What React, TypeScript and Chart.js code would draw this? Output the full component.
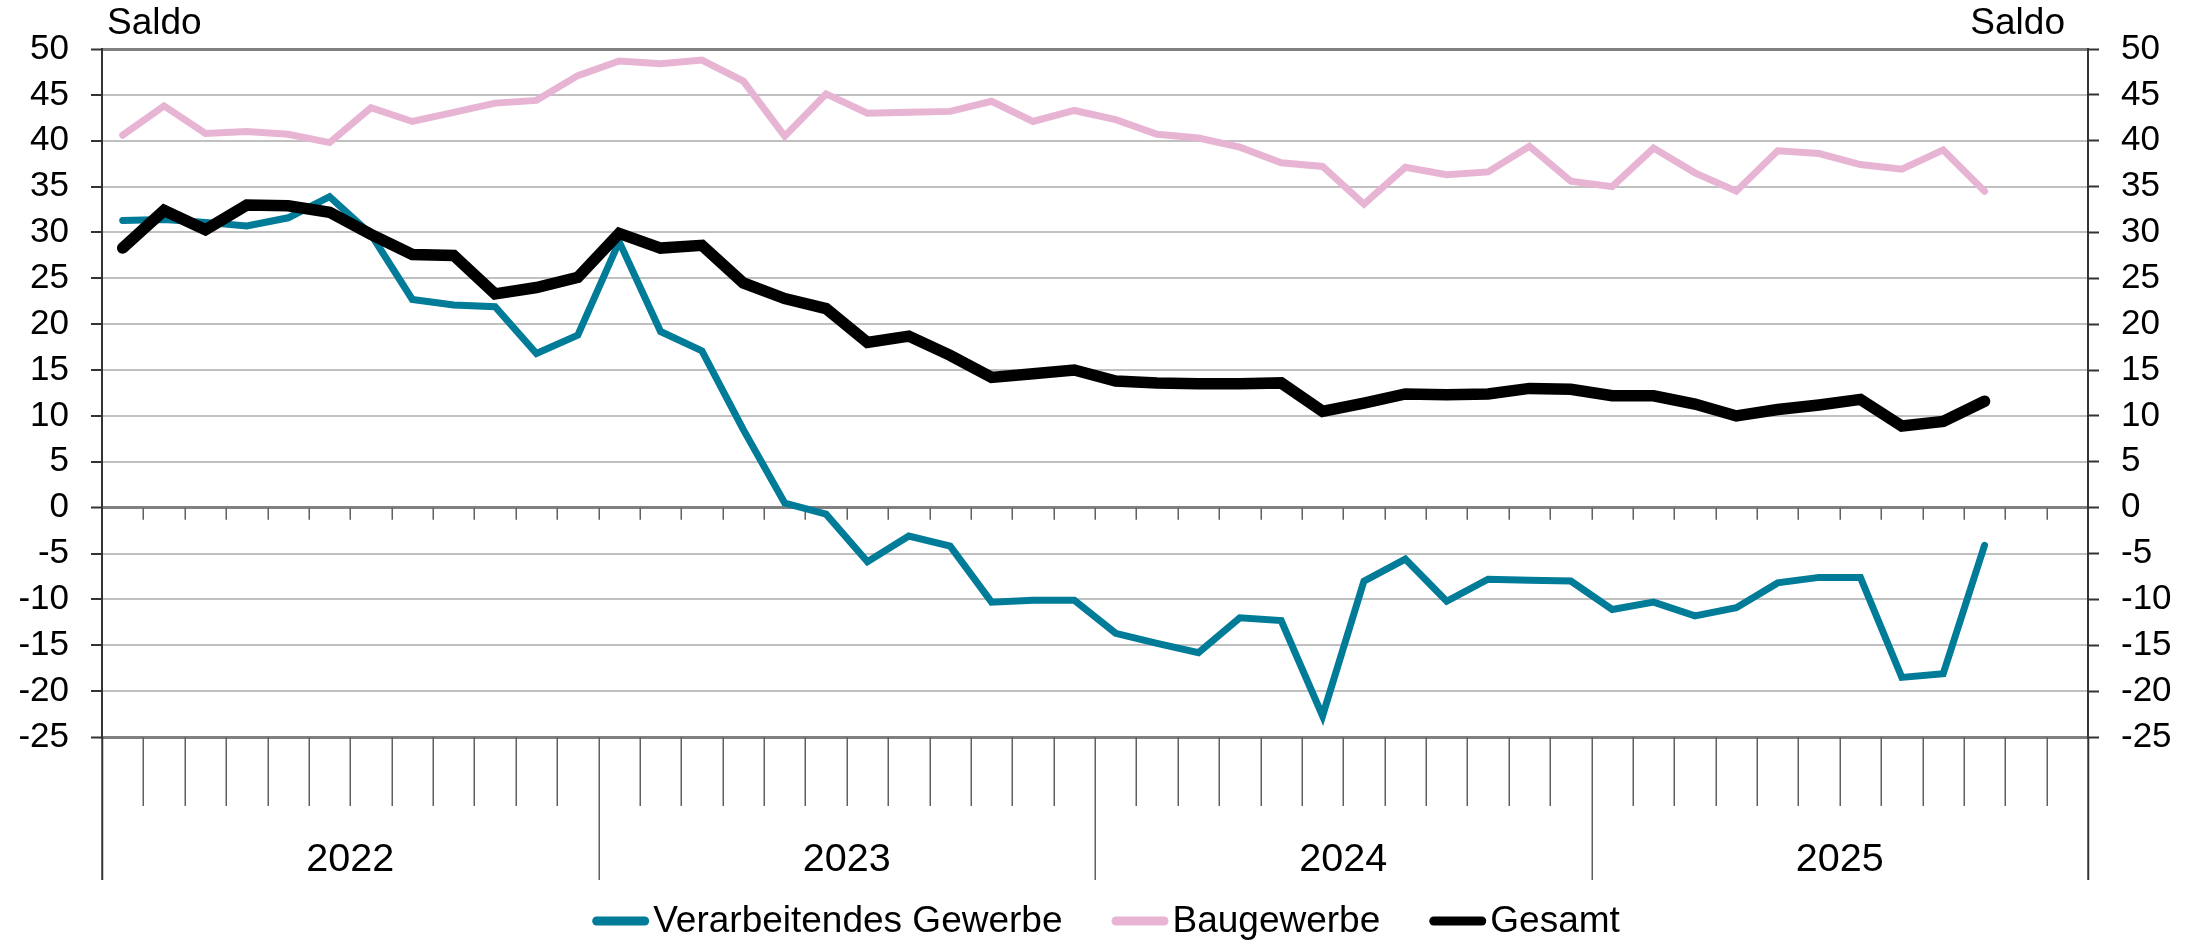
import React, { useEffect, useRef } from 'react';
import { Chart, registerables } from 'chart.js';

Chart.register(...registerables);

const FONT = "'Liberation Sans', Arial, Helvetica, sans-serif";

const YEARS = ['2022', '2023', '2024', '2025'];
const MONTHS_PER_YEAR = 12;
const Y_MIN = -25;
const Y_MAX = 50;
const Y_STEP = 5;
const AXIS_TITLE = 'Saldo';

const SERIES_NAMES = ['Verarbeitendes Gewerbe', 'Baugewerbe', 'Gesamt'];

// Monthly values, Jan 2022 .. Oct 2025
const VERARBEITENDES = [
  31.3, 31.4, 31.1, 30.7, 31.6, 33.9, 29.8, 22.7, 22.1, 21.9, 16.8, 18.8,
  29.0, 19.2, 17.1, 8.5, 0.5, -0.7, -5.9, -3.1, -4.2, -10.3, -10.1, -10.1,
  -13.7, -14.8, -15.8, -12.0, -12.3, -22.7, -8.0, -5.6, -10.2, -7.8, -7.9, -8.0,
  -11.1, -10.3, -11.8, -10.9, -8.2, -7.6, -7.6, -18.5, -18.1, -4.1,
];
const BAUGEWERBE = [
  40.6, 43.8, 40.8, 41.0, 40.7, 39.8, 43.6, 42.1, 43.1, 44.1, 44.4, 47.1,
  48.7, 48.4, 48.8, 46.5, 40.5, 45.1, 43.0, 43.1, 43.2, 44.3, 42.1, 43.3,
  42.3, 40.7, 40.3, 39.3, 37.6, 37.2, 33.1, 37.1, 36.3, 36.6, 39.4, 35.6,
  35.0, 39.2, 36.5, 34.5, 38.9, 38.6, 37.4, 36.9, 39.0, 34.5,
];
const GESAMT = [
  28.3, 32.4, 30.3, 33.0, 32.9, 32.2, 29.8, 27.6, 27.5, 23.3, 24.0, 25.1,
  29.9, 28.3, 28.6, 24.5, 22.8, 21.7, 18.0, 18.7, 16.6, 14.2, 14.6, 15.0,
  13.8, 13.6, 13.5, 13.5, 13.6, 10.5, 11.4, 12.4, 12.3, 12.4, 13.0, 12.9,
  12.2, 12.2, 11.3, 10.0, 10.7, 11.2, 11.8, 8.9, 9.4, 11.6,
];

const COLORS = ['#007b98', '#e8b4d4', '#000000'];
const WIDTHS = [7, 7, 11.5];

const W = 2198;
const H = 944;

const toPoints = (arr: number[]) => arr.map((v, i) => ({ x: i, y: v }));

const decoPlugin = {
  id: 'deco',
  beforeDatasetsDraw(chart: any) {
    const { ctx } = chart;
    const xs = chart.scales.x;
    const ys = chart.scales.y;
    const total = YEARS.length * MONTHS_PER_YEAR;
    const y0 = ys.getPixelForValue(0);
    ctx.save();
    ctx.strokeStyle = '#606060';
    ctx.lineWidth = 1.5;
    for (let k = 1; k < total; k++) {
      const x = Math.round(xs.getPixelForValue(k - 0.5)) + 0.25;
      ctx.beginPath();
      ctx.moveTo(x, y0);
      ctx.lineTo(x, y0 + 12);
      ctx.stroke();
    }
    ctx.restore();
  },
  afterDraw(chart: any) {
    const { ctx, chartArea } = chart;
    const xs = chart.scales.x;
    const total = YEARS.length * MONTHS_PER_YEAR;
    const bottom = chartArea.bottom;
    ctx.save();
    // bottom tick marks
    for (let k = 0; k <= total; k++) {
      const x = Math.round(xs.getPixelForValue(k - 0.5)) + 0.25;
      const isYear = k % MONTHS_PER_YEAR === 0;
      const isEdge = k === 0 || k === total;
      ctx.beginPath();
      ctx.strokeStyle = isEdge ? '#333333' : '#606060';
      ctx.lineWidth = isEdge ? 2 : 1.5;
      ctx.moveTo(x, bottom);
      ctx.lineTo(x, bottom + (isYear ? 143 : 69));
      ctx.stroke();
    }
    // year labels
    ctx.fillStyle = '#000';
    ctx.font = `39.5px ${FONT}`;
    ctx.textAlign = 'center';
    ctx.textBaseline = 'middle';
    YEARS.forEach((yr, j) => {
      const x = xs.getPixelForValue(j * MONTHS_PER_YEAR + (MONTHS_PER_YEAR - 1) / 2);
      ctx.fillText(yr, x, bottom + 123);
    });
    // axis titles
    ctx.font = `37px ${FONT}`;
    ctx.textAlign = 'left';
    ctx.fillText(AXIS_TITLE, chartArea.left + 5, 24);
    ctx.textAlign = 'right';
    ctx.fillText(AXIS_TITLE, chartArea.right - 23, 24);
    // legend
    ctx.font = `37px ${FONT}`;
    const boxW = 57;
    const boxH = 9;
    const gap = 4;
    const itemGap = 49;
    const widths = SERIES_NAMES.map((n) => ctx.measureText(n).width);
    const totalW = widths.reduce((a, w) => a + boxW + gap + w, 0) + itemGap * (SERIES_NAMES.length - 1);
    let x = chart.width / 2 + 7 - totalW / 2;
    const ly = 921;
    SERIES_NAMES.forEach((n, i) => {
      ctx.fillStyle = COLORS[i];
      ctx.beginPath();
      (ctx as any).roundRect(x, ly - boxH / 2, boxW, boxH, boxH / 2);
      ctx.fill();
      x += boxW + gap;
      ctx.fillStyle = '#000';
      ctx.textAlign = 'left';
      ctx.fillText(n, x, ly + 1);
      x += widths[i] + itemGap;
    });
    ctx.restore();
  },
};

const isDark = (v: number) => v === Y_MAX || v === 0 || v === Y_MIN;

export default function App() {
  const ref = useRef<HTMLCanvasElement | null>(null);
  useEffect(() => {
    if (!ref.current) return;
    const yTicks = {
      stepSize: Y_STEP,
      autoSkip: false,
      maxTicksLimit: 100,
      color: '#000',
      font: { size: 35, family: FONT },
      padding: 22,
    };
    const chart = new Chart(ref.current, {
      type: 'line',
      data: {
        datasets: [VERARBEITENDES, BAUGEWERBE, GESAMT].map((arr, i) => ({
          label: SERIES_NAMES[i],
          data: toPoints(arr),
          borderColor: COLORS[i],
          backgroundColor: COLORS[i],
          borderWidth: WIDTHS[i],
          pointRadius: 0,
          tension: 0,
          borderCapStyle: 'round',
          borderJoinStyle: 'miter',
          order: i === 2 ? 0 : i + 1,
          yAxisID: 'y',
        })),
      },
      options: {
        responsive: false,
        animation: false,
        devicePixelRatio: 1,
        layout: { padding: { top: 49, bottom: 207, left: 0, right: 0 } },
        plugins: { legend: { display: false }, tooltip: { enabled: false } },
        scales: {
          x: {
            type: 'linear',
            display: false,
            min: -0.5,
            max: YEARS.length * MONTHS_PER_YEAR - 0.5,
          },
          y: {
            position: 'left',
            min: Y_MIN,
            max: Y_MAX,
            ticks: yTicks,
            grid: {
              color: (c: any) => (isDark(c.tick.value) ? '#808080' : '#c0c0c0'),
              lineWidth: (c: any) => (isDark(c.tick.value) ? 3 : 2),
              tickLength: 11,
              tickColor: '#333333',
              tickWidth: 2,
            },
            border: { color: '#333333', width: 2 },
            afterFit: (s: any) => {
              s.width = 102;
            },
          },
          y2: {
            position: 'right',
            min: Y_MIN,
            max: Y_MAX,
            ticks: yTicks,
            grid: {
              drawOnChartArea: false,
              tickLength: 11,
              tickColor: '#333333',
              tickWidth: 2,
            },
            border: { color: '#333333', width: 2 },
            afterFit: (s: any) => {
              s.width = 110;
            },
          },
        },
      },
      plugins: [decoPlugin],
    } as any);
    return () => chart.destroy();
  }, []);
  return (
    <div style={{ position: 'fixed', left: 0, top: 0, width: W, height: H, background: '#fff' }}>
      <canvas ref={ref} width={W} height={H} style={{ width: W, height: H, display: 'block' }} />
    </div>
  );
}
